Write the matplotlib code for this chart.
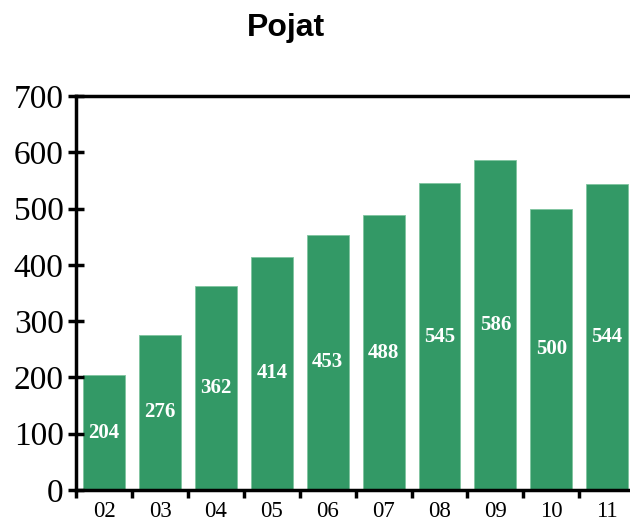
import matplotlib
matplotlib.use("Agg")
import matplotlib.pyplot as plt

# ── Data ─────────────────────────────────────────────────────────
years = ["02", "03", "04", "05", "06", "07", "08", "09", "10", "11"]
values = [204, 276, 362, 414, 453, 488, 545, 586, 500, 544]

BAR_COLOUR = "#339966"
SERIF = ["Liberation Serif", "DejaVu Serif"]

fig = plt.figure(figsize=(6.3, 5.24), dpi=100)
fig.patch.set_facecolor("#ffffff")
ax = fig.add_axes([0.121, 0.0649, 0.887, 0.752])

x = list(range(len(years)))
bars = ax.bar(x, values, width=0.75, color=BAR_COLOUR, edgecolor="#7fc49f", linewidth=0.6)

# value labels at mid-height
for bar, v in zip(bars, values):
    ax.text(bar.get_x() + bar.get_width() / 2, v / 2, f"{v}",
            ha="center", va="center", color="white", fontsize=15,
            fontweight="bold", family=SERIF)

ax.set_xlim(-0.5, 9.5)
ax.set_ylim(0, 700)
ax.set_yticks(range(0, 701, 100))
ax.tick_params(axis="y", direction="inout", length=12, width=2.5, labelsize=24, pad=3)
for lab in ax.get_yticklabels():
    lab.set_family(SERIF)

# x ticks at category boundaries, labels at centres
ax.set_xticks([i + 0.5 for i in range(-1, len(years))])
ax.set_xticklabels([])
ax.set_xticks(x, minor=True)
ax.set_xticklabels(years, minor=True, fontsize=16.5, family=SERIF)
ax.tick_params(axis="x", which="major", direction="out", length=6, width=2.5)
ax.tick_params(axis="x", which="minor", length=0, pad=8)

for side in ("left", "bottom", "top"):
    ax.spines[side].set_linewidth(2.5)
ax.spines["right"].set_visible(False)

fig.text(286 / 630, 1 - 28 / 524, "Pojat", ha="center", va="center",
         fontsize=23, fontweight="bold", family=["Liberation Sans", "DejaVu Sans"])

fig.savefig("out.png", dpi=100)
